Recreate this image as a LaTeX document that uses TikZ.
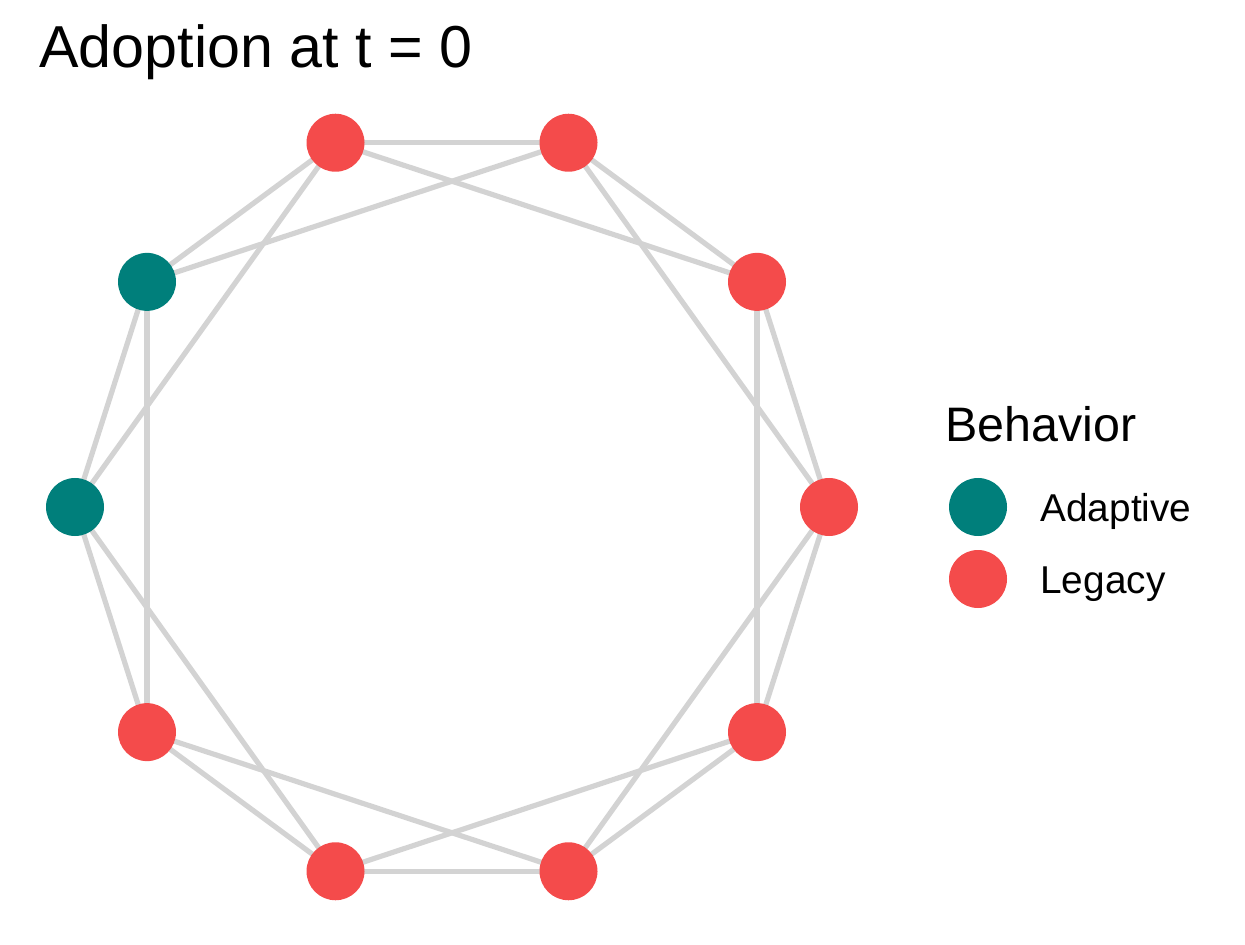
\documentclass[tikz,border=0pt]{standalone}
\usepackage{fontspec}
\setmainfont{Liberation Sans}
\usetikzlibrary{backgrounds}
\definecolor{adaptive}{RGB}{0,127,123}
\definecolor{legacy}{RGB}{244,75,75}
\definecolor{tiegray}{RGB}{211,211,211}

\begin{document}
\begin{tikzpicture}[line cap=round,line join=round,x=0.5pt,y=-0.5pt,
    agent/.style={circle,inner sep=0pt,minimum size=29pt},
    tie/.style={color=tiegray,line width=2.6pt},
    label/.style={anchor=base west,inner sep=0pt}]
        \useasboundingbox (0,0) rectangle (1245,945);
        \draw (39,68) node [label,font=\fontsize{29.6}{32}\selectfont] (title) {Adoption at t = 0};
        % ring of agents
        \foreach \i/\c in {0/legacy,1/legacy,2/legacy,3/legacy,4/adaptive,5/adaptive,6/legacy,7/legacy,8/legacy,9/legacy}
          \node [agent,fill=\c] (v\i) at ({452+377*cos(36*\i)},{507-383*sin(36*\i)}) {};
        \begin{scope}[on background layer]
          \foreach \i in {0,...,9} {
            \pgfmathtruncatemacro\j{mod(\i+1,10)}
            \pgfmathtruncatemacro\k{mod(\i+2,10)}
            \draw [tie] (v\i.center) -- (v\j.center);
            \draw [tie] (v\i.center) -- (v\k.center);
          }
        \end{scope}
        % legend
        \draw (945,442) node [label,font=\fontsize{24.2}{26}\selectfont] (legtitle) {Behavior};
        \node [agent,fill=adaptive] (keyA) at (978,507) {};
        \node [agent,fill=legacy] (keyL) at (978,579) {};
        \draw (1040,521) node [label,font=\fontsize{19.4}{21}\selectfont] (labA) {Adaptive};
        \draw (1040,593) node [label,font=\fontsize{19.4}{21}\selectfont] (labL) {Legacy};
\end{tikzpicture}
\end{document}
